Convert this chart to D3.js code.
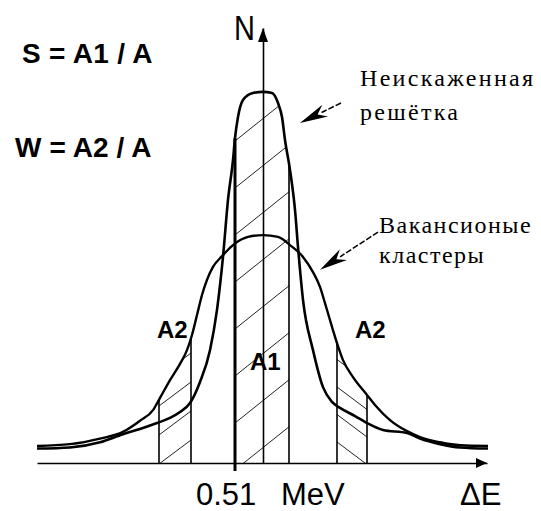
<!DOCTYPE html>
<html>
<head>
<meta charset="utf-8">
<script src="https://cdn.jsdelivr.net/npm/d3@7"></script>
<style>
  html, body { margin: 0; padding: 0; background: #fff; }
  svg { display: block; }
</style>
</head>
<body>
<svg id="chart" width="541" height="511"></svg>
<script>
// Annihilation line shape: energy offset from the 0.51 MeV line (channel units) and counts N (peak = 100)
const narrowE = [-22.6, -19.3, -16.3, -14.0, -12.3, -10.6, -9.3, -8.3, -7.3, -6.3, -5.3, -4.6, -4.0, -3.5, -3.0, -2.8, -2.5, -2.0, -1.0, 0.0, 0.9, 1.5, 1.9, 2.2, 2.7, 3.2, 3.5, 4.0, 5.0, 6.0, 6.9, 7.7, 9.2, 10.4, 12.0, 14.4, 15.7, 17.7, 19.7, 22.5];
const narrowN = [3.9, 4.2, 5.6, 7.8, 9.2, 10.8, 12.2, 13.8, 16.2, 21.9, 30.5, 41.4, 55.7, 71.1, 81.9, 87.8, 93.5, 98.1, 100.0, 100.3, 100.0, 97.3, 93.5, 87.3, 79.2, 68.4, 58.4, 44.1, 30.5, 20.5, 16.5, 14.9, 12.7, 10.8, 8.9, 8.1, 6.6, 5.1, 4.2, 3.9];

// Vacancy-cluster spectrum: broader and lower
const broadE = [-22.6, -19.3, -16.3, -14.0, -12.3, -11.0, -10.3, -9.3, -8.3, -7.6, -7.1, -6.6, -6.1, -5.6, -5.0, -4.1, -3.0, -1.5, 0.0, 1.5, 2.7, 4.0, 5.0, 5.7, 6.2, 6.9, 7.4, 8.0, 9.0, 10.4, 11.2, 12.7, 14.4, 15.7, 17.7, 19.7, 22.5];
const broadN = [4.6, 5.1, 6.6, 8.4, 11.4, 14.3, 17.6, 22.4, 26.8, 30.5, 34.6, 40.0, 45.4, 49.5, 53.0, 55.9, 58.9, 61.1, 61.6, 61.1, 58.9, 55.7, 51.6, 47.6, 43.2, 36.8, 32.4, 27.8, 23.2, 18.4, 15.7, 11.6, 8.6, 7.0, 5.6, 4.8, 4.6];

// Integration windows: central (S) and wings (W)
const sWindow = [-2.8, 2.6];
const wWindows = [[-10.4, -7.2], [7.4, 10.4]];

// Text
const formulas = ["S = A1 / A", "W = A2 / A"];
const narrowLabel = ["Неискаженная", "решётка"];
const broadLabel = ["Вакансионые", "кластеры"];
const areaLabels = ["A1", "A2", "A2"];
const axisNLabel = "N";
const axisELabel = "ΔE";
const lineLabel = ["0.51", "MeV"];

// Pointer arrows: [tailE, tailN, tipE, tipN]
const narrowPointer = [7.8, 97.3, 3.7, 91.9];
const broadPointer = [11.5, 62.4, 5.7, 52.2];

const svg = d3.select("#chart");
const x = d3.scaleLinear().domain([-22.6, 22.4]).range([37, 487]);
const y = d3.scaleLinear().domain([0, 100]).range([463, 93]);
const nTop = 117.6;

const sans = "'Liberation Sans', Arial, Helvetica, sans-serif";
const serif = "'Liberation Serif', 'Times New Roman', serif";

const narrow = narrowE.map((e, i) => [e, narrowN[i]]);
const broad = broadE.map((e, i) => [e, broadN[i]]);

const line = d3.line().x(d => x(d[0])).y(d => y(d[1])).curve(d3.curveMonotoneX);

// Hidden paths used to look up the curve height at any x
const defs = svg.append("defs");
const probe = svg.append("g").attr("visibility", "hidden");
const pN = probe.append("path").attr("d", line(narrow)).node();
const pB = probe.append("path").attr("d", line(broad)).node();

function sampler(node) {
  const L = node.getTotalLength();
  const pts = [];
  for (let i = 0; i <= 3000; i++) {
    const p = node.getPointAtLength(L * i / 3000);
    pts.push([p.x, p.y]);
  }
  const bis = d3.bisector(d => d[0]).left;
  return px => {
    const i = bis(pts, px);
    if (i <= 0) return pts[0][1];
    if (i >= pts.length) return pts[pts.length - 1][1];
    const a = pts[i - 1], b = pts[i];
    const t = (px - a[0]) / ((b[0] - a[0]) || 1);
    return a[1] + t * (b[1] - a[1]);
  };
}
const yN = sampler(pN);
const yB = sampler(pB);
const topAt = px => Math.min(yN(px), yB(px));

// Hatched areas under the envelope of both spectra
function hatch(id, e0, e1, slope, anchorY, step, count) {
  const x0 = x(e0), x1 = x(e1);
  const pts = [];
  for (let px = x0; px <= x1 + 0.01; px += 0.5) pts.push([px, topAt(px)]);
  pts.push([x1, y(0)], [x0, y(0)]);
  defs.append("clipPath").attr("id", id)
    .append("polygon").attr("points", pts.map(p => p.join(",")).join(" "));
  const g = svg.append("g").attr("clip-path", `url(#${id})`);
  for (let k = 0; k < count; k++) {
    const yy = anchorY - k * step;
    const xa = x0 - 10, xb = x1 + 10;
    g.append("line")
      .attr("x1", xa).attr("y1", yy + slope * (xa - x0))
      .attr("x2", xb).attr("y2", yy + slope * (xb - x0))
      .attr("stroke", "#222").attr("stroke-width", 1);
  }
}
hatch("clipS", sWindow[0], sWindow[1], -0.8, y(0) + 7, 47, 9);
hatch("clipWL", wWindows[0][0], wWindows[0][1], -0.75, y(0) + 1, 29, 5);
hatch("clipWR", wWindows[1][0], wWindows[1][1], 0.75, y(0) - 21, 27.5, 5);

// Window boundaries
function boundary(e, w, below) {
  const px = x(e);
  svg.append("line")
    .attr("x1", px).attr("x2", px)
    .attr("y1", topAt(px)).attr("y2", y(0) + below)
    .attr("stroke", "#000").attr("stroke-width", w);
}
boundary(sWindow[0], 3, 8);
boundary(sWindow[1], 1.6, 0);
wWindows.forEach(w => { boundary(w[0], 1.6, 0); boundary(w[1], 1.6, 0); });

// Spectra
svg.append("path").attr("d", line(broad))
  .attr("fill", "none").attr("stroke", "#000").attr("stroke-width", 2.4)
  .attr("stroke-linejoin", "round");
svg.append("path").attr("d", line(narrow))
  .attr("fill", "none").attr("stroke", "#000").attr("stroke-width", 2.6)
  .attr("stroke-linejoin", "round");

// Axes (no ticks) with arrow heads
svg.append("g").attr("transform", `translate(0,${y(0)})`)
  .call(d3.axisBottom(x).tickValues([]).tickSizeOuter(0))
  .call(g => g.select(".domain").attr("stroke", "#000").attr("stroke-width", 1.6));
const yAxisScale = d3.scaleLinear().domain([0, nTop]).range([y(0), y(nTop)]);
svg.append("g").attr("transform", `translate(${x(0)},0)`)
  .call(d3.axisLeft(yAxisScale).tickValues([]).tickSizeOuter(0))
  .call(g => g.select(".domain").attr("stroke", "#000").attr("stroke-width", 1.6));

const xEnd = x.range()[1];
svg.append("polygon")
  .attr("points", `${xEnd},${y(0)} ${xEnd - 11},${y(0) - 5} ${xEnd - 11},${y(0) + 5}`)
  .attr("fill", "#000");
const yEnd = y(nTop);
svg.append("polygon")
  .attr("points", `${x(0)},${yEnd} ${x(0) - 5},${yEnd + 14} ${x(0) + 5},${yEnd + 14}`)
  .attr("fill", "#000");

// Pointer arrows
function pointer(a) {
  const tx = x(a[0]), ty = y(a[1]), hx = x(a[2]), hy = y(a[3]);
  const dx = hx - tx, dy = hy - ty, len = Math.hypot(dx, dy);
  const ux = dx / len, uy = dy / len, vx = -uy, vy = ux;
  const head = 28, hw = 6.5;
  const bx = hx - ux * head, by = hy - uy * head;
  svg.append("line").attr("x1", tx).attr("y1", ty).attr("x2", bx + ux * 4).attr("y2", by + uy * 4)
    .attr("stroke", "#000").attr("stroke-width", 1.5).attr("stroke-dasharray", "6,2");
  const nx = hx - ux * head * 0.7, ny = hy - uy * head * 0.7;
  svg.append("polygon")
    .attr("points", [[hx, hy], [bx + vx * hw, by + vy * hw], [nx, ny], [bx - vx * hw, by - vy * hw]]
      .map(p => p.join(",")).join(" "))
    .attr("fill", "#000");
}
pointer(narrowPointer);
pointer(broadPointer);

// Formulas
svg.append("text").attr("x", 22).attr("y", 63).text(formulas[0])
  .attr("font-family", sans).attr("font-weight", "bold").attr("font-size", 28)
  .attr("letter-spacing", 0.3);
svg.append("text").attr("x", 15).attr("y", 157).text(formulas[1])
  .attr("font-family", sans).attr("font-weight", "bold").attr("font-size", 28)
  .attr("letter-spacing", 0.1);

// Curve labels
function serifLabel(lines, px, py, gap, spacing) {
  lines.forEach((t, i) => {
    svg.append("text").attr("x", px).attr("y", py + i * gap).text(t)
      .attr("font-family", serif).attr("font-size", 24).attr("letter-spacing", spacing);
  });
}
serifLabel(narrowLabel, 360, 86, 34, 2.3);
serifLabel(broadLabel, 379, 233, 30, 1.5);

// Area labels
const areaPos = [[250, 370], [157, 338], [355, 338]];
areaLabels.forEach((t, i) => {
  svg.append("text").attr("x", areaPos[i][0]).attr("y", areaPos[i][1]).text(t)
    .attr("font-family", sans).attr("font-weight", "bold").attr("font-size", 24);
});

// Axis labels
svg.append("text").attr("transform", "translate(234,40) scale(1,1.2)").text(axisNLabel)
  .attr("font-family", sans).attr("font-size", 29);
svg.append("text").attr("x", 460).attr("y", 505).text(axisELabel)
  .attr("font-family", sans).attr("font-size", 31);
const lbl = svg.append("text").attr("y", 505).attr("font-family", sans).attr("font-size", 31);
lbl.append("tspan").attr("x", 196).text(lineLabel[0]);
lbl.append("tspan").attr("x", 281).text(lineLabel[1]);
</script>
</body>
</html>
